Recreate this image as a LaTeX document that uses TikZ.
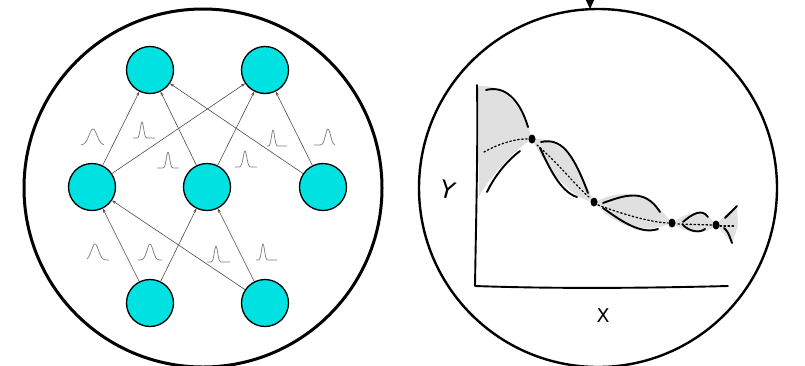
\documentclass[tikz,border=0pt]{standalone}
\usepackage{fontspec}
\setsansfont{DejaVu Sans}
\usetikzlibrary{arrows.meta,shapes.geometric}
\definecolor{nodecyan}{RGB}{0,226,226}
\newcommand\gaussglyph[5]{% cx, base y, sigma, left extent, right extent
  \draw[gline] plot[domain=-#4:#5, samples=50, smooth] ({#1+\x},{#2-16*exp(-(\x*\x)/(2*#3*#3))});}
\begin{document}
\begin{tikzpicture}[x=1pt,y=-1pt,
  neuron/.style={circle, draw=black, line width=1.3pt, fill=nodecyan, minimum size=47pt, inner sep=0pt},
  bigring/.style={circle, draw=black, inner sep=0pt, minimum size=358pt},
  link/.style={draw=black!70, line width=0.6pt, -{Stealth[length=4pt,width=3pt]}},
  gline/.style={draw=black!50, line width=0.75pt},
  sketch/.style={line width=1.9pt, line cap=round, line join=round},
  mean/.style={line width=1.3pt, dash pattern=on 1.5pt off 2.5pt, line cap=round},
  band/.style={fill=black!12, draw=none},
  dot/.style={ellipse, fill=black, inner sep=0pt, minimum width=7pt, minimum height=9pt}]
\useasboundingbox (0,0) rectangle (805,365);
% big rings
\node[bigring, line width=3pt] (leftring) at (203,188) {};
\node[bigring, line width=2.4pt] (rightring) at (598,188) {};
% top arrow into right ring
\coordinate (arrstart) at (590,-6);
\coordinate (arrend) at (590,9);
\draw[line width=1pt, -{Triangle[length=9pt,width=8pt]}] (arrstart) -- (arrend);
% neurons
\node[neuron] (t1) at (150,70) {};
\node[neuron] (t2) at (265,70) {};
\node[neuron] (m1) at (92,187) {};
\node[neuron] (m2) at (207,187) {};
\node[neuron] (m3) at (323,187) {};
\node[neuron] (b1) at (150,303) {};
\node[neuron] (b2) at (265,303) {};
% links
\draw[link] (m1) -- (t1);
\draw[link] (m1) -- (t2);
\draw[link] (m2) -- (t1);
\draw[link] (m2) -- (t2);
\draw[link] (m3) -- (t1);
\draw[link] (m3) -- (t2);
\draw[link] (b1) -- (m1);
\draw[link] (b1) -- (m2);
\draw[link] (b2) -- (m1);
\draw[link] (b2) -- (m2);
% weight distributions
\gaussglyph{93}{145}{4}{12}{11}
\gaussglyph{142}{138}{1.6}{9}{13}
\gaussglyph{168}{168}{1.6}{11}{11}
\gaussglyph{245}{167}{1.8}{10}{12}
\gaussglyph{273}{146}{1.5}{6}{14}
\gaussglyph{328}{145}{2.5}{14}{7}
\gaussglyph{95}{260}{3.5}{8}{14}
\gaussglyph{150}{260}{3}{12}{12}
\gaussglyph{216}{262}{1.6}{9}{14}
\gaussglyph{263}{260}{1.5}{7}{14}
% right plot: bands
\fill[band] (478,86) .. controls (500,84) and (522,100) .. (532,139) .. controls (515,150) and (495,170) .. (479,196) -- cycle;
\fill[band] (532,139) .. controls (565,136) and (580,170) .. (594,202) .. controls (575,200) and (550,175) .. (532,139) -- cycle;
\fill[band] (594,202) .. controls (620,190) and (645,188) .. (672,223) .. controls (640,236) and (615,226) .. (594,202) -- cycle;
\fill[band] (672,223) .. controls (690,210) and (705,209) .. (716,225) .. controls (705,235) and (690,235) .. (672,223) -- cycle;
\fill[band] (716,225) .. controls (725,215) .. (737,206) -- (738,226) -- (732,243) .. controls (725,235) .. (716,225) -- cycle;
% axes
\draw[sketch] (477,85) .. controls (478,150) and (476,220) .. (475,286) .. controls (560,289) and (650,288) .. (728,286);
% band edges
\draw[sketch] (486,90) .. controls (505,85) and (520,100) .. (528,127);
\draw[sketch] (487,192) .. controls (495,175) and (508,160) .. (520,151);
\draw[sketch] (541,142) .. controls (560,138) and (572,150) .. (588,193);
\draw[sketch] (540,148) .. controls (548,165) and (560,192) .. (577,197);
\draw[sketch] (603,203) .. controls (625,195) and (645,188) .. (660,212);
\draw[sketch] (603,208) .. controls (620,220) and (640,235) .. (658,229);
\draw[sketch] (683,222) .. controls (692,214) and (702,208) .. (708,217);
\draw[sketch] (683,225) .. controls (690,232) and (700,233) .. (705,229);
\draw[sketch] (725,218) -- (737,206);
\draw[sketch] (724,228) .. controls (728,232) .. (732,243);
% mean
\draw[mean] (484,152) .. controls (500,143) and (518,138) .. (530,139);
\draw[mean] (537,145) .. controls (560,165) and (575,185) .. (590,198);
\draw[mean] (598,205) .. controls (625,215) and (650,222) .. (668,223);
\draw[mean] (678,224) -- (712,225);
\draw[mean] (720,226) -- (734,226);
% data points
\node[dot] (p1) at (532,139) {};
\node[dot] (p2) at (594,202) {};
\node[dot] (p3) at (672,223) {};
\node[dot] (p4) at (716,225) {};
% labels
\node[font=\fontsize{24}{24}\sffamily, rotate=-15] (ylab) at (448,190) {Y};
\node[font=\fontsize{19}{19}\sffamily] (xlab) at (603,316) {X};
\end{tikzpicture}
\end{document}
